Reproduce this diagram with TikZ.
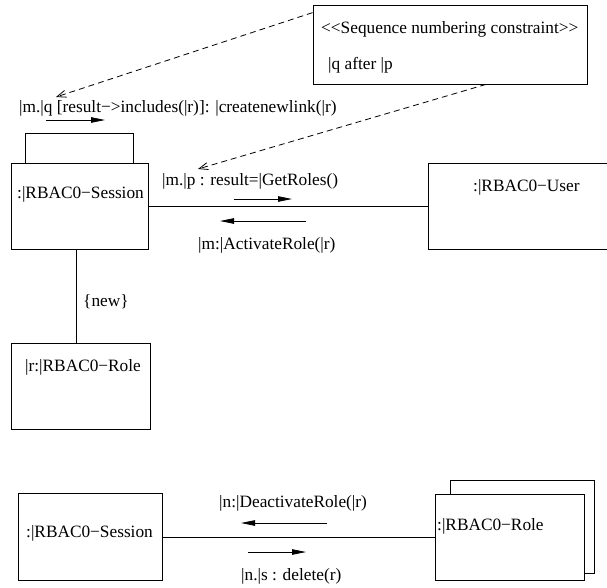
\documentclass[tikz,border=0pt]{standalone}
\usepackage{fontspec}
\setmainfont{Liberation Serif}
\usetikzlibrary{arrows.meta}
\newcommand{\lt}{\textless\kern0pt}
\newcommand{\gt}{\textgreater\kern0pt}
\begin{document}
\begin{tikzpicture}[x=1pt,y=-1pt,
  every node/.style={font=\fontsize{17.3}{20}\selectfont},
  objbox/.style={draw,line width=0.8pt,rectangle,inner sep=0pt},
  lbl/.style={anchor=west,inner sep=0pt},
  wire/.style={line width=0.8pt},
  msg/.style={line width=0.8pt,-{Triangle[length=14pt,width=5.5pt]}},
  note/.style={line width=0.8pt,dash pattern=on 6pt off 4pt,-{Straight Barb[length=9pt,width=7pt]}}]
\useasboundingbox (0,0) rectangle (607,587);

% constraint note
\node[objbox,minimum width=274pt,minimum height=79pt] (c) at (450,44.5) {};
\node[lbl] (cl1) at (321,29) {\lt\lt Sequence numbering constraint\gt\gt};
\node[lbl] (cl2) at (328,65) {\textbar q after \textbar p};

% upper collaboration
\node[objbox,minimum width=137pt,minimum height=86pt] (s1) at (79.5,206) {};
\node[lbl] (s1l) at (17,194) {:\textbar RBAC0−Session};
\node[objbox,minimum width=193pt,minimum height=86pt] (u) at (524.5,206) {};
\node[lbl] (ul) at (473,187) {:\textbar RBAC0−User};
\node[objbox,minimum width=139pt,minimum height=86pt] (r1) at (80.5,386) {};
\node[lbl] (r1l) at (25,367) {\textbar r:\textbar RBAC0−Role};

% self link on the session
\draw[wire] ([xshift=15pt]s1.north west) -- ++(0,-29) -| ([xshift=-15pt]s1.north east);
% links
\draw[wire] (s1.east) -- (u.west);
\draw[wire] ([xshift=-3.5pt]s1.south) -- ([xshift=-3.5pt]s1.south |- r1.north);
\node[lbl] (new) at (83,302) {\{new\}};

% messages
\node[lbl] (mq) at (19,108) {\textbar m.\textbar q [result−\gt includes(\textbar r)]: \textbar createnewlink(\textbar r)};
\coordinate (mqa) at (46,120);
\coordinate (mqb) at (105,120);
\draw[msg] (mqa) -- (mqb);

\node[lbl] (mp) at (162,181) {\textbar m.\textbar p : result=\textbar GetRoles()};
\coordinate (mpa) at (234,199);
\coordinate (mpb) at (292,199);
\draw[msg] (mpa) -- (mpb);

\node[lbl] (mm) at (198,245) {\textbar m:\textbar ActivateRole(\textbar r)};
\coordinate (mma) at (306,221);
\coordinate (mmb) at (220,221);
\draw[msg] (mma) -- (mmb);

% constraint dependencies
\coordinate (qtip) at (56,97);
\coordinate (ptip) at (198,169);
\draw[note] ([yshift=-8pt]c.north west) -- (qtip);
\draw[note] ([xshift=36pt]c.south) -- (ptip);

% lower collaboration
\node[objbox,minimum width=144pt,minimum height=87pt] (s2) at (90,537) {};
\node[lbl] (s2l) at (26,533) {:\textbar RBAC0−Session};
\draw[wire] (450,494) -- (450,480) -- (594,480) -- (594,573) -- (584,573);
\node[objbox,fill=white,minimum width=149pt,minimum height=86pt] (r2) at (509.5,537) {};
\node[lbl] (r2l) at (437,526) {:\textbar RBAC0−Role};
\draw[wire] (s2.east) -- (r2.west);

\node[lbl] (nd) at (219,503) {\textbar n:\textbar DeactivateRole(\textbar r)};
\coordinate (nda) at (327,523);
\coordinate (ndb) at (241,523);
\draw[msg] (nda) -- (ndb);

\node[lbl] (ns) at (241,576) {\textbar n.\textbar s : delete(r)};
\coordinate (nsa) at (248,552);
\coordinate (nsb) at (306,552);
\draw[msg] (nsa) -- (nsb);
\end{tikzpicture}
\end{document}
